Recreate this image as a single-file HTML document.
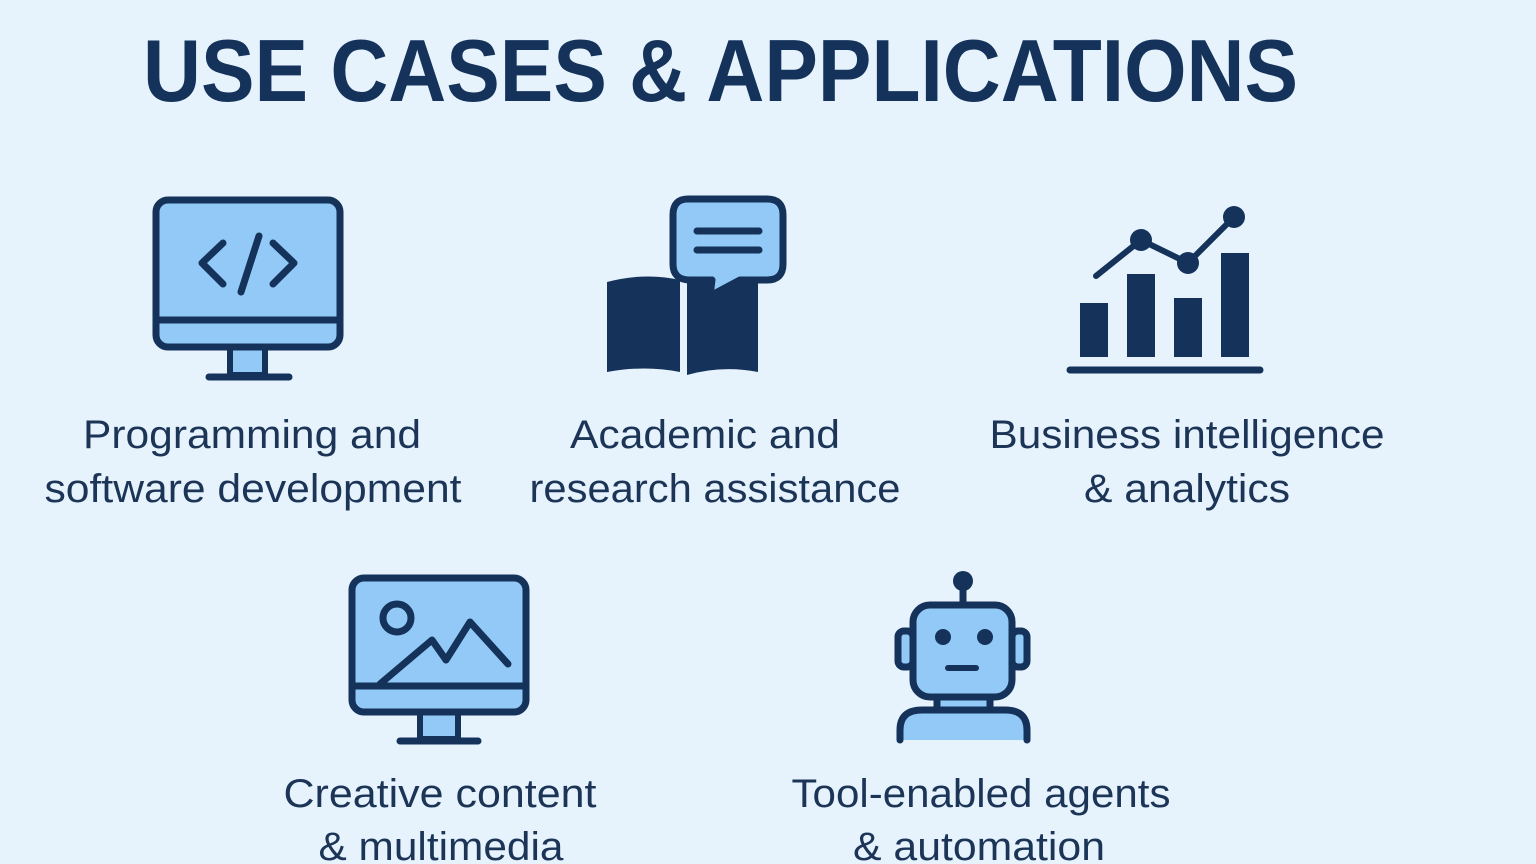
<!DOCTYPE html>
<html><head><meta charset="utf-8"><style>
html,body{margin:0;padding:0;background:#e6f3fd;}
svg{display:block}
text{font-family:"Liberation Sans",sans-serif;}
</style></head><body>
<svg width="1536" height="864" viewBox="0 0 1536 864" xmlns="http://www.w3.org/2000/svg">
<rect width="1536" height="864" fill="#e6f3fd"/>
<text x="143" y="101" font-size="88" font-weight="bold" fill="#14325a" textLength="1155" lengthAdjust="spacingAndGlyphs">USE CASES &amp; APPLICATIONS</text>
<g fill="#1c3557" font-size="40" text-anchor="middle" lengthAdjust="spacingAndGlyphs">
<text x="252" y="448" textLength="338" lengthAdjust="spacingAndGlyphs">Programming and</text>
<text x="253" y="502" textLength="417" lengthAdjust="spacingAndGlyphs">software development</text>
<text x="705" y="448" textLength="270" lengthAdjust="spacingAndGlyphs">Academic and</text>
<text x="715" y="502" textLength="371" lengthAdjust="spacingAndGlyphs">research assistance</text>
<text x="1187" y="448" textLength="395" lengthAdjust="spacingAndGlyphs">Business intelligence</text>
<text x="1187" y="502" textLength="206" lengthAdjust="spacingAndGlyphs">&amp; analytics</text>
<text x="440" y="807" textLength="313" lengthAdjust="spacingAndGlyphs">Creative content</text>
<text x="441" y="860" textLength="245" lengthAdjust="spacingAndGlyphs">&amp; multimedia</text>
<text x="981" y="807" textLength="379" lengthAdjust="spacingAndGlyphs">Tool-enabled agents</text>
<text x="979" y="860" textLength="252" lengthAdjust="spacingAndGlyphs">&amp; automation</text>
</g>
<g stroke="#14325a" stroke-width="7" stroke-linecap="round" stroke-linejoin="round" fill="#92c9f6">
<rect x="230" y="347" width="35" height="28" stroke-width="6"/>
<line x1="209" y1="377" x2="289" y2="377"/>
<rect x="156" y="200" width="184" height="147" rx="12"/>
<line x1="156" y1="320" x2="340" y2="320"/>
<polyline points="223,243 202,263 223,284" fill="none"/>
<line x1="259" y1="236" x2="241" y2="292"/>
<polyline points="273,243 294,263 273,284" fill="none"/>
<path d="M607,282 Q645,272 680,280 L680,372 Q645,365 607,372 Z" fill="#14325a" stroke="none"/>
<path d="M687,280 Q722,272 758,282 L758,372 Q722,365 687,375 Z" fill="#14325a" stroke="none"/>
<path d="M688,199 H767 Q783,199 783,215 V264 Q783,280 767,280 H740 L710,296 L712,280 H690 Q673,280 673,264 V215 Q673,199 688,199 Z"/>
<line x1="697" y1="231" x2="759" y2="231"/>
<line x1="697" y1="250" x2="759" y2="250"/>
<g fill="#14325a" stroke="none">
<rect x="1080" y="303" width="28" height="54"/>
<rect x="1127" y="274" width="28" height="83"/>
<rect x="1174" y="298" width="28" height="59"/>
<rect x="1221" y="253" width="28" height="104"/>
<circle cx="1141" cy="240" r="11"/>
<circle cx="1188" cy="263" r="11"/>
<circle cx="1234" cy="217" r="11"/>
</g>
<line x1="1070" y1="370" x2="1260" y2="370"/>
<polyline points="1096,276 1141,240 1188,263 1234,217" fill="none" stroke-width="6"/>
<rect x="420" y="712" width="38" height="27" stroke-width="6"/>
<line x1="400" y1="741" x2="478" y2="741"/>
<rect x="352" y="578" width="174" height="134" rx="12"/>
<line x1="352" y1="686" x2="526" y2="686"/>
<circle cx="397" cy="618" r="14"/>
<polyline points="380,684 432,640 446,660 470,622 508,664" fill="none"/>
<line x1="963" y1="585" x2="963" y2="604"/>
<circle cx="963" cy="581" r="10" fill="#14325a" stroke="none"/>
<rect x="898" y="631" width="15" height="36" rx="6"/>
<rect x="1012" y="631" width="15" height="36" rx="6"/>
<rect x="937" y="695" width="53" height="15"/>
<path d="M900,740 V730 Q900,710 922,710 H1005 Q1027,710 1027,730 V740"/>
<rect x="913" y="605" width="99" height="92" rx="17"/>
<circle cx="943" cy="637" r="8" fill="#14325a" stroke="none"/>
<circle cx="985" cy="637" r="8" fill="#14325a" stroke="none"/>
<line x1="948" y1="668" x2="976" y2="668" stroke-width="6"/>
</g>
</svg>
</body></html>
